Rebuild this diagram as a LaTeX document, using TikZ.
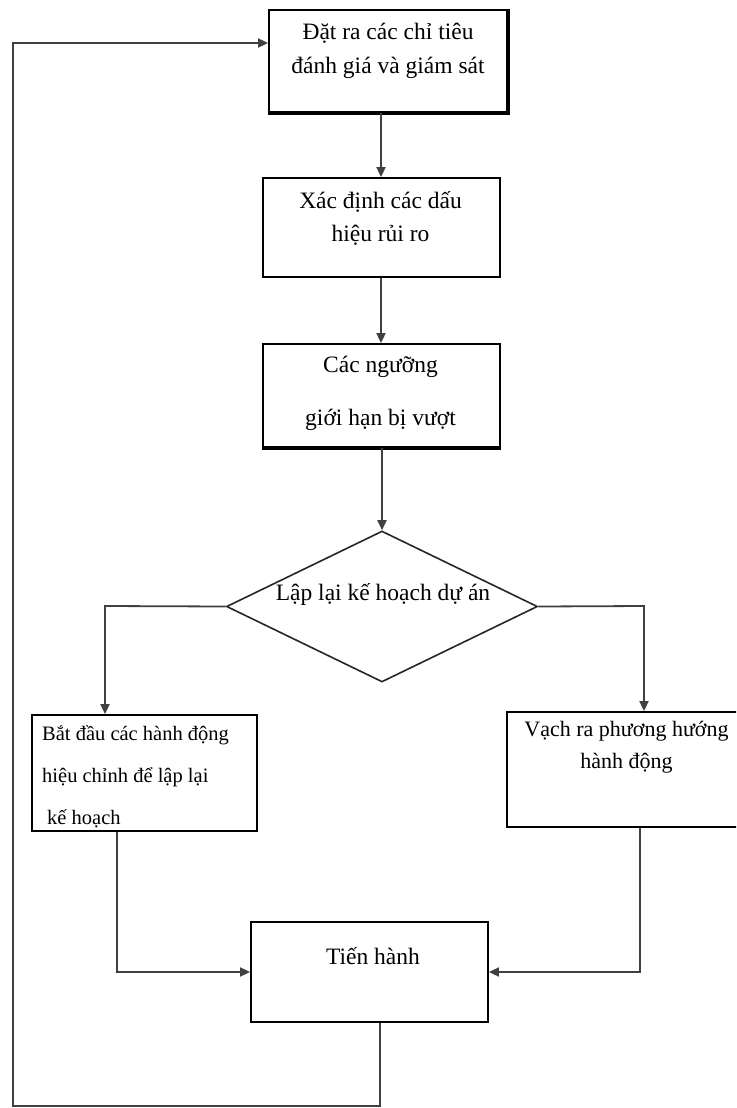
\documentclass[tikz,border=0pt]{standalone}
\usepackage{fontspec}
\setmainfont{Liberation Serif}
\usetikzlibrary{arrows.meta,shapes.geometric}

\tikzset{
  box/.style={draw=black, line width=1.8pt, rectangle, inner sep=0pt, fill=white},
  decision/.style={draw=black!85, line width=1.6pt, diamond, inner sep=0pt, aspect=2.06},
  txt/.style={inner sep=0pt, align=center, font=\fontsize{23.5}{34}\selectfont},
  conn/.style={draw=black!75, line width=1.8pt},
  arr/.style={conn, -{Triangle[length=10pt,width=9pt]}},
}

\begin{document}
\begin{tikzpicture}[x=1pt, y=-1pt]
  \useasboundingbox (0,0) rectangle (736,1108);
  \clip (0,0) rectangle (736,1108);

  % process boxes (centre, width, height)
  \node[box, minimum width=238pt, minimum height=102pt] (b1) at (388,61) {};
  \draw[line width=3.6pt] (b1.north east) -- (b1.south east) -- (b1.south west);
  \node[box, minimum width=237pt, minimum height=99pt] (b2) at (381.5,227.5) {};
  \node[box, minimum width=237pt, minimum height=103pt] (b3) at (381.5,395.5) {};
  \draw[line width=3.6pt] (b3.south west) -- (b3.south east);
  \node[decision, minimum width=311pt, minimum height=151pt] (d) at (382,606.5) {};
  \node[box, minimum width=225pt, minimum height=116pt] (lb) at (144.5,773) {};
  \node[box, minimum width=240pt, minimum height=115pt] (rb) at (627,769.5) {};
  \node[box, minimum width=237pt, minimum height=100pt] (th) at (369.5,972) {};

  % labels
  \node[txt] (t1) at (388,51) {Đặt ra các chỉ tiêu\\đánh giá và giám sát};
  \node[txt, font=\fontsize{23.5}{33}\selectfont] (t2) at (380.5,218) {Xác định các dấu\\hiệu rủi ro};
  \node[txt, font=\fontsize{23.5}{53}\selectfont] (t3) at (380.5,393) {Các ngưỡng\\giới hạn bị vượt};
  \node[txt] (td) at (383,594) {Lập lại kế hoạch dự án};
  \node[txt, align=left, anchor=west, font=\fontsize{20.5}{42}\selectfont] (tl) at (42,777)
    {Bắt đầu các hành động\\hiệu chỉnh để lập lại\\\hspace*{5pt}kế hoạch};
  \node[txt, font=\fontsize{22}{32}\selectfont] (tr) at (626.5,747) {Vạch ra phương hướng\\hành động};
  \node[txt] (tt) at (373,956) {Tiến hành};

  % routing points
  \coordinate (dl) at (105,606);
  \coordinate (dr) at (644,606);
  \coordinate (lbo) at (117,0);
  \coordinate (rbo) at (640,0);
  \coordinate (thd) at (380,1106);
  \coordinate (loopl) at (13,1106);
  \coordinate (loopt) at (13,43);

  % connectors
  \draw[arr] (b1.south -| 381,0) -- (b2.north -| 381,0);
  \draw[arr] (b2.south -| 381,0) -- (b3.north -| 381,0);
  \draw[arr] (d.north |- b3.south) -- (d.north);
  \draw[arr] (d.west) -- (dl) -- (dl |- lb.north);
  \draw[arr] (d.east) -- (dr) -- (dr |- rb.north);
  \draw[arr] (lb.south -| lbo) -- (lbo |- th.west) -- (th.west);
  \draw[arr] (rb.south -| rbo) -- (rbo |- th.east) -- (th.east);
  \draw[arr] (th.south -| thd) -- (thd) -- (loopl) -- (loopt) -- (loopt -| b1.west);
\end{tikzpicture}
\end{document}
